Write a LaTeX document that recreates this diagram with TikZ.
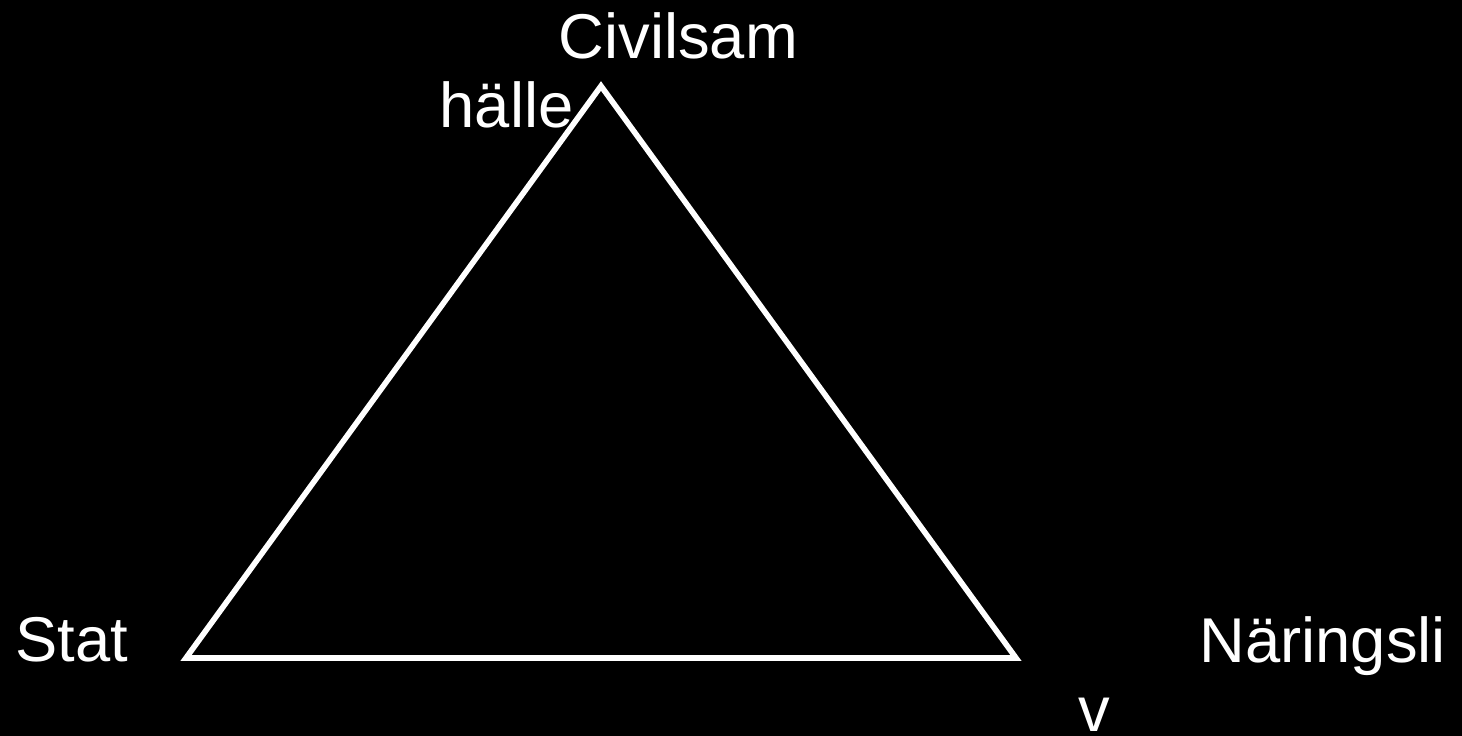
\documentclass[tikz,border=0pt]{standalone}
\usepackage{fontspec}
\setmainfont{Liberation Sans}
\tikzset{
    label/.style={text=white, inner sep=0pt, anchor=base west, font=\fontsize{18}{21}\selectfont},
    side/.style={draw=white, line width=1.6pt, miter limit=10}
}
\begin{document}
\begin{tikzpicture}[x=0.01cm, y=-0.01cm]
    % background
    \fill[black] (0,0) rectangle (1462,736);
    \useasboundingbox (0,0) rectangle (1462,736);
    % corners of the triangle
    \coordinate (top) at (601,86);
    \coordinate (left) at (186,658);
    \coordinate (right) at (1016,658);
    \draw[side] (top) -- (left) -- (right) -- cycle;
    % labels
    \node[label] (civ1) at (558,58) {Civilsam};
    \node[label] (civ2) at (439,127) {hälle};
    \node[label] (stat) at (15,661) {Stat};
    \node[label] (nar1) at (1199,662) {Näringsli};
    \node[label] (nar2) at (1078,731) {v};
\end{tikzpicture}
\end{document}
